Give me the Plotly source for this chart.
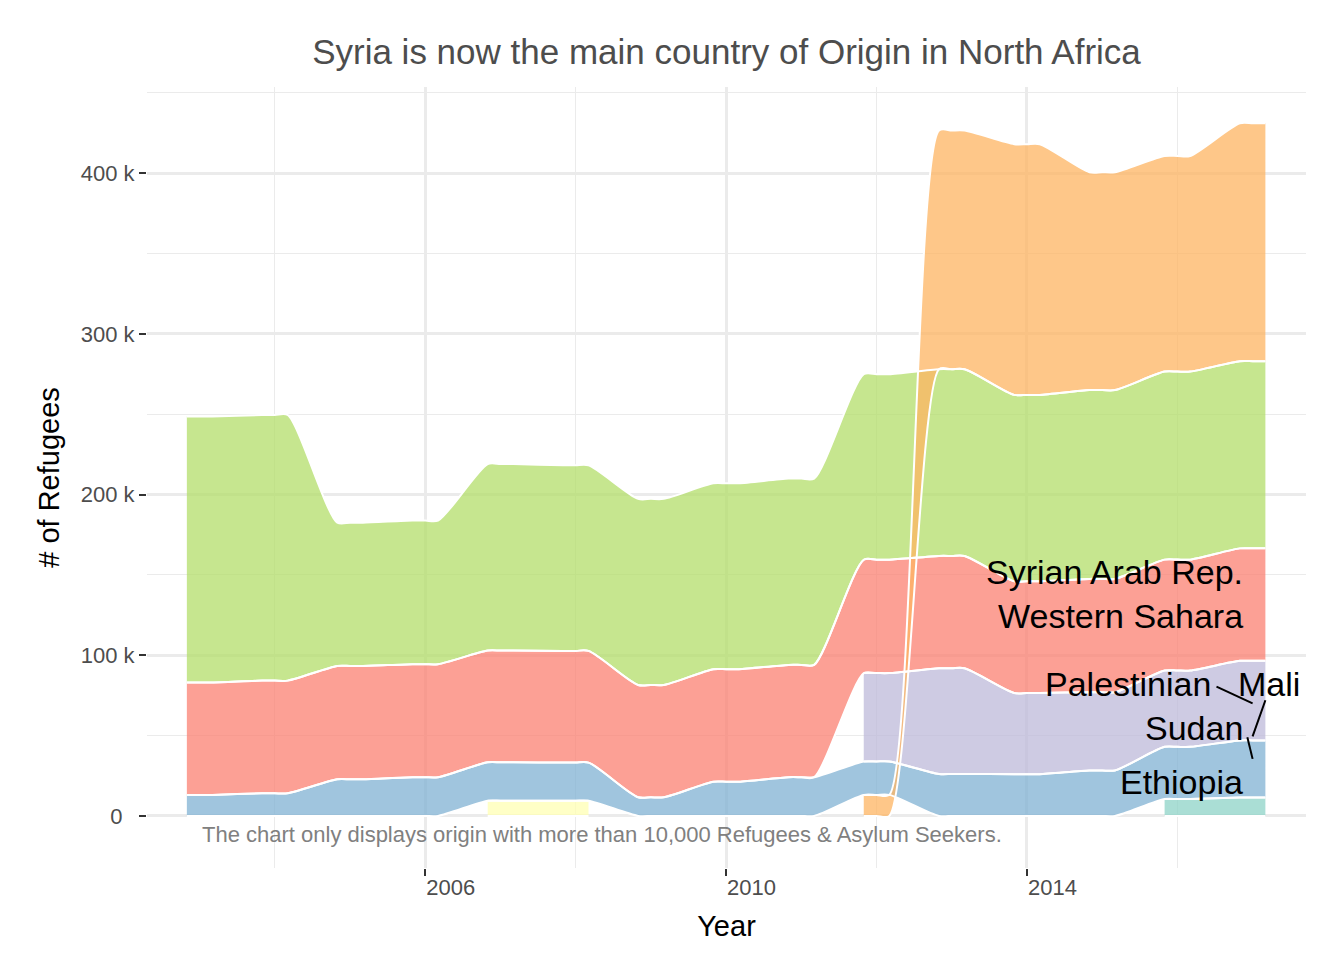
import plotly.graph_objects as go

# datos: refugiados por pais de origen en el Norte de Africa
years = list(range(2003, 2018))
ethiopia = [None] * 13 + [10500, 11500]
iraq = [None] * 4 + [9500, 9500] + [None] * 9
mali = [None] * 9 + [55000, 65800, 50500, 48700, 47500, 49500]
palestinian = [69900, 70100, 70500, 70300, 69500, 69500, 69900, 70000,
               69900, 70500, 69900, 69500, 70500, 69000, 70000]
sudan = [13100, 14100, 22800, 24100, 23900, 23700, 11600, 21300,
         24100, 20800, 26100, 26000, 28300, 32500, 35500]
syria = [None] * 9 + [13100, 148500, 156000, 135600, 134200, 148000]
western_sahara = [165500, 165300, 89200, 89400, 116100, 115500, 115800, 115700,
                  115900, 115500, 116200, 116000, 117500, 117000, 116500]

paises = ["Ethiopia", "Iraq", "Mali", "Palestinian", "Sudan", "Syrian Arab Rep.", "Western Sahara"]
valores = [ethiopia, iraq, mali, palestinian, sudan, syria, western_sahara]
colores = ["rgba(141,211,199,0.75)", "rgba(255,255,179,0.75)", "rgba(190,186,218,0.75)",
           "rgba(251,128,114,0.75)", "rgba(128,177,211,0.75)", "rgba(253,180,98,0.75)",
           "rgba(179,222,105,0.75)"]

# etiquetas de los ejes
x_ticks = [2006, 2010, 2014]
x_minor = [2004, 2008, 2012, 2016]
y_ticks = [0, 100000, 200000, 300000, 400000]
y_labels = ["0\u00a0\u00a0", "100 k", "200 k", "300 k", "400 k"]
y_minor = [50000, 150000, 250000, 350000, 450000]

# etiquetas al final de cada serie (texto, x, y, anclaje)
etiquetas = [
    ("Syrian Arab Rep.", 2016.90, 152000, "right"),
    ("Western Sahara", 2016.90, 124500, "right"),
    ("Palestinian", 2016.48, 82000, "right"),
    ("Mali", 2016.78, 82000, "left"),
    ("Sudan", 2016.90, 55000, "right"),
    ("Ethiopia", 2016.90, 21000, "right"),
]
# lineas que unen etiqueta y serie (pais, inicio x, inicio y)
guias = [("Palestinian", 2016.52, 80500), ("Mali", 2017.17, 72000), ("Sudan", 2016.93, 49000)]

medio = 0.17  # medio ancho de cada meseta anual
suave = 0.8   # suavizado de las curvas

# apilar cada anio ordenando los paises de menor a mayor
xs = {p: [] for p in paises}
abajo = {p: [] for p in paises}
arriba = {p: [] for p in paises}
for i, anio in enumerate(years):
    presentes = [k for k in range(len(paises)) if valores[k][i] is not None]
    presentes.sort(key=lambda k: valores[k][i])
    base = 0
    for k in presentes:
        p = paises[k]
        tope = base + valores[k][i]
        # meseta: el mismo valor al inicio, centro y fin del anio
        xs[p] += [anio - medio, anio, anio + medio]
        abajo[p] += [base] * 3
        arriba[p] += [tope] * 3
        base = tope

figura = go.Figure()
orden = ["Ethiopia", "Iraq", "Sudan", "Mali", "Palestinian", "Western Sahara", "Syrian Arab Rep."]
for p in orden:
    c = colores[paises.index(p)]
    figura.add_trace(go.Scatter(x=xs[p], y=abajo[p], mode="lines",
                                line=dict(width=0, shape="spline", smoothing=suave),
                                hoverinfo="skip", showlegend=False))
    figura.add_trace(go.Scatter(x=xs[p], y=arriba[p], mode="lines", name=p,
                                line=dict(width=0, shape="spline", smoothing=suave),
                                fill="tonexty", fillcolor=c, showlegend=False))
# bordes blancos
for p in orden:
    for borde in (abajo[p], arriba[p]):
        figura.add_trace(go.Scatter(x=xs[p], y=borde, mode="lines",
                                    line=dict(color="white", width=2, shape="spline", smoothing=suave),
                                    hoverinfo="skip", showlegend=False))

for texto, x, y, anc in etiquetas:
    figura.add_annotation(x=x, y=y, text=texto, showarrow=False, xanchor=anc,
                          yanchor="middle", font=dict(size=34, color="black"))
for p, x0, y0 in guias:
    v = valores[paises.index(p)][-1]
    figura.add_shape(type="line", x0=x0, y0=y0, x1=years[-1], y1=v,
                     line=dict(color="black", width=2))

figura.add_annotation(x=2003.0, y=-11800, xanchor="left", yanchor="middle", showarrow=False,
                      text="The chart only displays origin with more than 10,000 Refugees & Asylum Seekers.",
                      font=dict(size=22, color="#808080"))

# la pagina deja 8 px de borde, por eso el lienzo es algo menor
figura.update_layout(
    width=1336, height=952,
    margin=dict(l=139, r=38, t=79, b=92),
    plot_bgcolor="white", paper_bgcolor="white",
    font=dict(family="Liberation Sans", color="#4d4d4d"),
    title=dict(text="Syria is now the main country of Origin in North Africa",
               x=0.5, xref="paper", xanchor="center", y=1 - 44 / 952, yanchor="middle",
               font=dict(size=35, color="#4d4d4d")),
    showlegend=False,
)
figura.update_xaxes(
    range=[2002.30, 2017.71], tickvals=x_ticks, ticktext=[str(t) for t in x_ticks],
    ticks="outside", ticklen=7, tickwidth=2, tickcolor="#333333",
    ticklabelposition="outside right", tickfont=dict(size=22, color="#4d4d4d"),
    showgrid=True, gridcolor="#ebebeb", gridwidth=2.8, zeroline=False, showline=False,
    minor=dict(tickvals=x_minor, showgrid=True, gridcolor="#ebebeb", gridwidth=1.4, ticks=""),
    title=dict(text="Year", font=dict(size=29, color="black"), standoff=16),
)
figura.update_yaxes(
    range=[-32400, 453600], tickvals=y_ticks, ticktext=y_labels,
    ticks="outside", ticklen=7, tickwidth=2, tickcolor="#333333",
    tickfont=dict(size=22, color="#4d4d4d"),
    showgrid=True, gridcolor="#ebebeb", gridwidth=2.8, zeroline=False, showline=False,
    minor=dict(tickvals=y_minor, showgrid=True, gridcolor="#ebebeb", gridwidth=1.4, ticks=""),
    title=dict(text="# of Refugees", font=dict(size=29, color="black"), standoff=12),
)

figura.write_html("out.html")
